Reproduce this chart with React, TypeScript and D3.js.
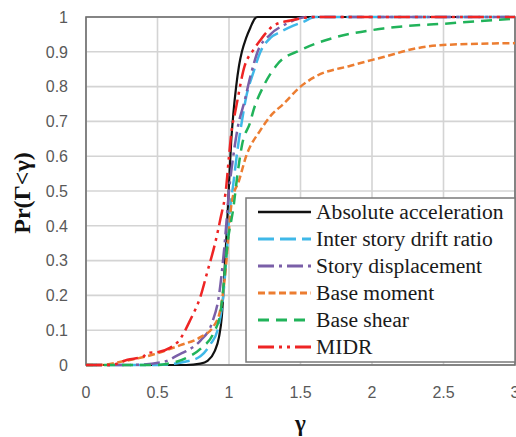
import React from "react";
import * as d3 from "d3";

const W = 516;
const H = 437;

// data: [gamma, probability]
const absAccel: [number, number][] = [[0,0],[0.7,0],[0.8,0.004],[0.85,0.012],[0.9,0.04],[0.93,0.08],[0.95,0.14],[0.97,0.28],[0.985,0.39],[1.0,0.52],[1.015,0.64],[1.03,0.72],[1.05,0.8],[1.07,0.86],[1.09,0.9],[1.12,0.94],[1.15,0.97],[1.18,0.995],[1.2,1],[3,1]];
const interStory: [number, number][] = [[0,0],[0.5,0],[0.7,0.01],[0.8,0.025],[0.87,0.06],[0.92,0.1],[0.96,0.2],[0.98,0.3],[1.0,0.42],[1.03,0.52],[1.06,0.62],[1.09,0.7],[1.12,0.77],[1.17,0.84],[1.22,0.9],[1.29,0.94],[1.36,0.957],[1.45,0.975],[1.52,0.986],[1.6,1],[3,1]];
const storyDisp: [number, number][] = [[0,0],[0.3,0],[0.55,0.01],[0.65,0.03],[0.7,0.04],[0.8,0.07],[0.88,0.12],[0.93,0.2],[0.97,0.35],[1.0,0.5],[1.03,0.6],[1.06,0.68],[1.11,0.76],[1.15,0.83],[1.2,0.9],[1.29,0.95],[1.4,0.98],[1.55,1],[3,1]];
const baseMoment: [number, number][] = [[0,0],[0.1,0],[0.25,0.01],[0.47,0.03],[0.66,0.057],[0.8,0.08],[0.89,0.11],[0.94,0.16],[0.98,0.29],[1.0,0.39],[1.02,0.47],[1.07,0.53],[1.12,0.6],[1.22,0.675],[1.3,0.72],[1.38,0.75],[1.5,0.8],[1.61,0.83],[1.85,0.86],[2.08,0.885],[2.31,0.91],[2.52,0.92],[3,0.925]];
const baseShear: [number, number][] = [[0,0],[0.5,0],[0.59,0.005],[0.7,0.02],[0.81,0.05],[0.89,0.09],[0.94,0.15],[0.96,0.22],[0.99,0.35],[1.03,0.45],[1.06,0.55],[1.09,0.63],[1.15,0.7],[1.17,0.73],[1.24,0.8],[1.34,0.865],[1.5,0.905],[1.73,0.94],[2.08,0.967],[2.55,0.982],[3,0.995]];
const midr: [number, number][] = [[0,0],[0.17,0],[0.29,0.015],[0.4,0.024],[0.43,0.035],[0.5,0.037],[0.59,0.05],[0.65,0.07],[0.73,0.13],[0.8,0.196],[0.85,0.27],[0.9,0.345],[0.94,0.42],[0.98,0.51],[1.0,0.6],[1.02,0.68],[1.04,0.72],[1.11,0.86],[1.17,0.905],[1.22,0.934],[1.25,0.95],[1.31,0.975],[1.43,0.99],[1.6,1],[3,1]];

const seriesNames = ["Absolute acceleration", "Inter story drift ratio", "Story displacement", "Base moment", "Base shear", "MIDR"];
const seriesData = [absAccel, interStory, storyDisp, baseMoment, baseShear, midr];
const seriesColors = ["#111111", "#3fb8e8", "#7a5fa8", "#ec7d31", "#21b35a", "#ee2424"];
const seriesDash = ["none", "16,6", "16,5,3,5", "7,3.5", "11,7", "16,5,3,5,3,5"];
const seriesWidth = [2.2, 2.5, 2.5, 2.5, 2.5, 2.5];

const xTicks = [0, 0.5, 1, 1.5, 2, 2.5, 3];
const yTicks = [0, 0.1, 0.2, 0.3, 0.4, 0.5, 0.6, 0.7, 0.8, 0.9, 1];

export default function App() {
  const left = 86, right = 515, top = 17, bottom = 365;
  const x = d3.scaleLinear().domain([0, 3]).range([left, right]);
  const y = d3.scaleLinear().domain([0, 1]).range([bottom, top]);
  const line = d3.line<[number, number]>().x(d => x(d[0])).y(d => y(d[1])).curve(d3.curveMonotoneX);

  const legX = 246, legY = 198, legW = 269, legH = 164;
  const rowY0 = 212, rowDy = 27;

  return (
    <svg width={W} height={H} style={{ position: "absolute", left: 0, top: 0, background: "#fff" }}>
      <rect x={0} y={0} width={W} height={H} fill="#fff" />
      {/* grid */}
      {yTicks.map(t => (
        <line key={"gy" + t} x1={left} x2={right} y1={y(t)} y2={y(t)} stroke="#d4d4d4" strokeWidth={1.6} />
      ))}
      {xTicks.map(t => (
        <line key={"gx" + t} x1={x(t)} x2={x(t)} y1={top} y2={bottom} stroke="#d4d4d4" strokeWidth={1.6} />
      ))}
      {/* plot frame */}
      <rect x={left} y={top} width={right - left} height={bottom - top} fill="none" stroke="#6e6e6e" strokeWidth={1.6} />
      {/* curves */}
      <g clipPath="url(#clip)">
        {seriesData.map((d, i) => (
          <path key={"s" + i} d={line(d) || ""} fill="none" stroke={seriesColors[i]} strokeWidth={seriesWidth[i]}
            strokeDasharray={seriesDash[i]} strokeLinejoin="round" />
        ))}
      </g>
      <defs>
        <clipPath id="clip"><rect x={left} y={top - 2} width={right - left} height={bottom - top + 4} /></clipPath>
      </defs>
      {/* y tick labels */}
      {yTicks.map(t => (
        <text key={"ty" + t} x={68} y={y(t)} dy="0.36em" textAnchor="end" fontFamily="'Liberation Sans', Arial, sans-serif" fontSize={16} fill="#595959">
          {d3.format("")(+t.toFixed(1))}
        </text>
      ))}
      {/* x tick labels */}
      {xTicks.map(t => (
        <text key={"tx" + t} x={x(t)} y={398} textAnchor="middle" fontFamily="'Liberation Sans', Arial, sans-serif" fontSize={16} fill="#595959">
          {d3.format("")(t)}
        </text>
      ))}
      {/* axis titles */}
      <text transform={`translate(30,${(top + bottom) / 2 + 2}) rotate(-90)`} textAnchor="middle" fontFamily="'Liberation Serif', 'Times New Roman', serif" fontWeight="bold" fontSize={24} fill="#111">
        Pr(Γ&lt;γ)
      </text>
      <text x={(left + right) / 2} y={431} textAnchor="middle" fontFamily="'Liberation Serif', 'Times New Roman', serif" fontWeight="bold" fontSize={23} fill="#111">
        γ
      </text>
      {/* legend */}
      <rect x={legX} y={legY} width={legW} height={legH} fill="#fff" stroke="#7a7a7a" strokeWidth={1.5} />
      {seriesNames.map((n, i) => (
        <g key={"l" + i}>
          <line x1={258} x2={311} y1={rowY0 + i * rowDy} y2={rowY0 + i * rowDy} stroke={seriesColors[i]} strokeWidth={seriesWidth[i] + 0.3} strokeDasharray={seriesDash[i]} />
          <text x={316} y={rowY0 + i * rowDy + 7} fontFamily="'Liberation Serif', 'Times New Roman', serif" fontSize={21.6} fill="#1a1a1a">{n}</text>
        </g>
      ))}
    </svg>
  );
}
